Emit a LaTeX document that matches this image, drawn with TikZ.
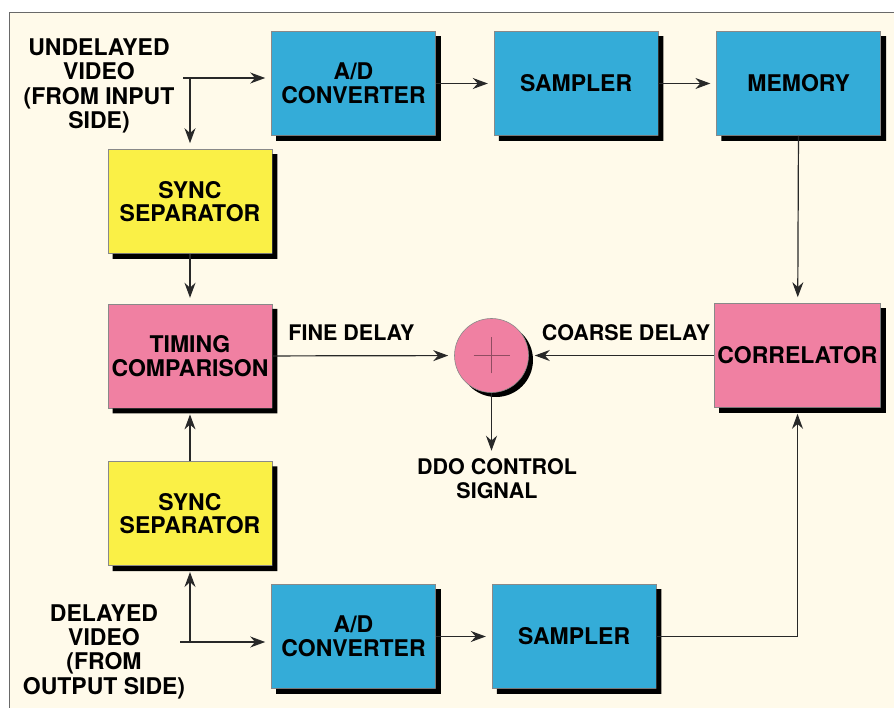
\documentclass[tikz,border=0pt]{standalone}
\usepackage{fontspec}
\setmainfont{TeX Gyre Heros}
\usepackage{tikz}
\usetikzlibrary{arrows.meta,positioning,calc,backgrounds}
\definecolor{dlyblue}{RGB}{52,172,216}
\definecolor{dlyyellow}{RGB}{250,240,70}
\definecolor{dlypink}{RGB}{240,128,162}
\definecolor{dlycream}{RGB}{255,250,234}
\definecolor{dlydark}{RGB}{40,40,40}

\begin{document}
\begin{tikzpicture}[
  x=1pt,y=-1pt,
  box/.style={draw=dlydark!55,line width=0.6pt,minimum width=164pt,minimum height=104pt,
              font=\fontsize{23}{23.5}\selectfont\bfseries,align=center,inner sep=3pt},
  arr/.style={-{Stealth[length=15pt,width=11pt]},line width=1.2pt,color=dlydark,shorten >=6pt},
  lbl/.style={font=\fontsize{23}{24.3}\selectfont\bfseries,color=black,align=center,inner sep=2pt},
  dlbl/.style={font=\fontsize{21.5}{24}\selectfont\bfseries,color=black,align=center,inner sep=2pt}
]
\useasboundingbox (0,0) rectangle (894,708);
\fill[dlycream] (9,12) rectangle (894,708);
\draw[dlydark!70,line width=0.8pt] (9,708) -- (9,12) -- (894,12);

\node[box,fill=dlyblue] (ad1) at (353.5,83.5) {A/D\\CONVERTER};
\node[box,fill=dlyblue,right=58pt of ad1] (sampler1) {SAMPLER};
\node[box,fill=dlyblue,right=58pt of sampler1] (mem) {MEMORY};
\node[box,fill=dlyyellow] (sync1) at (190,201.5) {SYNC\\SEPARATOR};
\node[box,fill=dlypink,below=50pt of sync1] (timing) {TIMING\\COMPARISON};
\node[box,fill=dlyyellow,below=53pt of timing] (sync2) {SYNC\\SEPARATOR};
\node[box,fill=dlyblue] (ad2) at (353.5,636.5) {A/D\\CONVERTER};
\node[box,fill=dlyblue,right=56pt of ad2] (sampler2) {SAMPLER};
\node[box,fill=dlypink] (corr) at (797.5,355.5) {CORRELATOR};
\fill[black] (496,360) circle (37pt);
\node[circle,draw=dlydark!55,line width=0.6pt,fill=dlypink,minimum size=74pt] (sum) at (491.5,355.5) {};
\draw[dlypink!60!black,line width=0.7pt] ([xshift=-18pt]sum.center) -- ([xshift=18pt]sum.center);
\draw[dlypink!60!black,line width=0.7pt] ([yshift=-18pt]sum.center) -- ([yshift=18pt]sum.center);

\foreach \nd in {ad1,sampler1,mem,sync1,timing,sync2,ad2,sampler2,corr}
  \fill[black] ([xshift=5pt]\nd.south west) -- ([xshift=5pt,yshift=-5pt]\nd.south west)
    -- ([xshift=5pt,yshift=-5pt]\nd.south east) -- ([xshift=5pt,yshift=-5pt]\nd.north east)
    -- ([yshift=-5pt]\nd.north east) -- (\nd.south east) -- cycle;

\node[lbl] (undel) at (99,86) {UNDELAYED\\VIDEO\\(FROM INPUT\\SIDE)};
\node[lbl] (del) at (104,651.5) {DELAYED\\VIDEO\\(FROM\\OUTPUT SIDE)};
\node[dlbl] (ddo) at (497,479) {DDO CONTROL\\SIGNAL};
\coordinate (uin) at (183,78);
\coordinate (din) at (180,642);

\draw[arr] (uin) -- (uin -| ad1.west);
\draw[arr] (uin -| sync1) -- (sync1.north);
\draw[arr] (ad1) -- (sampler1);
\draw[arr] (sampler1) -- (mem);
\draw[arr] (mem) -- (corr);
\draw[arr] (sync1) -- (timing);
\draw[arr] (sync2) -- (timing);
\draw[arr] (din) -- (din -| ad2.west);
\draw[arr] (din -| sync2) -- (sync2.south);
\draw[arr] (ad2) -- (sampler2);
\draw[arr] (sampler2) -| (corr.south);
\draw[arr] (timing) -- (sum);
\draw[arr] (corr) -- (sum);
\draw[arr] (sum) -- (sum |- ddo.north);

\node[dlbl] at (351.5,333) {FINE DELAY};
\node[dlbl] at (626,333) {COARSE DELAY};
\end{tikzpicture}
\end{document}
